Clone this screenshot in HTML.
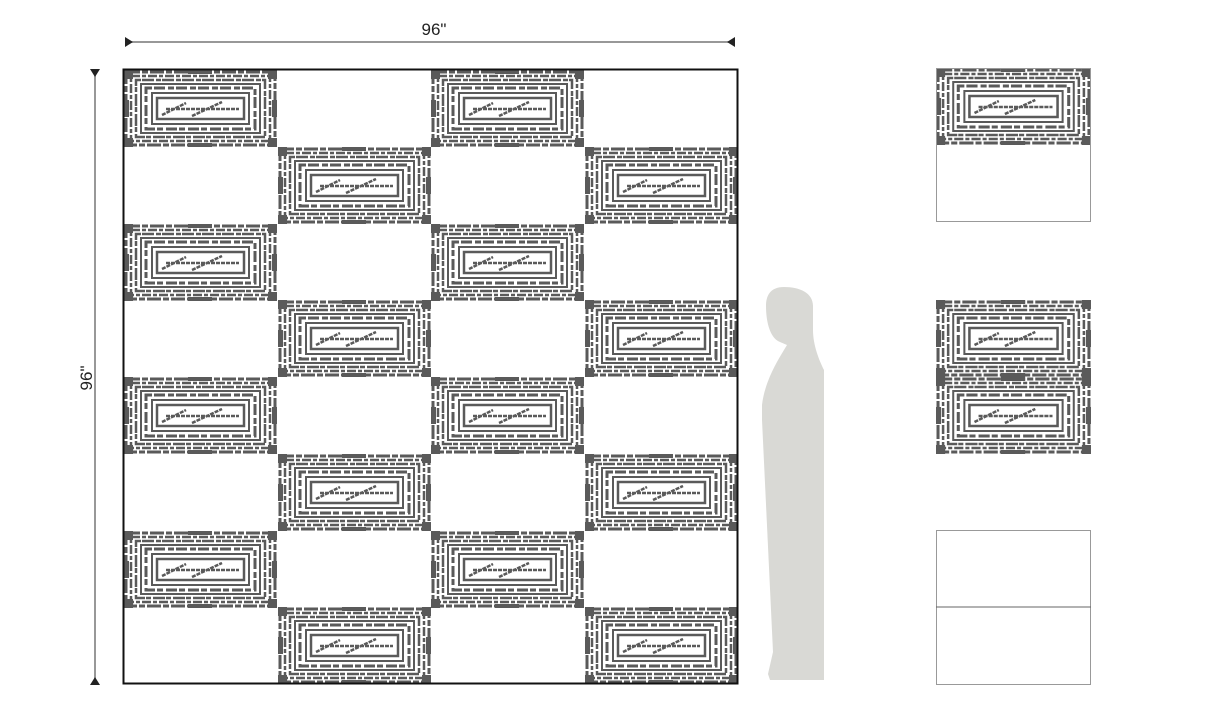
<!DOCTYPE html>
<html><head><meta charset="utf-8"><style>
html,body{margin:0;padding:0;background:#fff;width:1217px;height:702px;overflow:hidden}
</style></head><body>
<svg width="1217" height="702" viewBox="0 0 1217 702" xmlns="http://www.w3.org/2000/svg">
<defs>
<g id="t">
  <rect x="0" y="0" width="153" height="77" fill="#fff"/>
  <g fill="none" stroke="#5a5a5a">
    <rect x="2" y="2" width="149" height="73" stroke-width="3" stroke-dasharray="14 2 6 2"/>
    <rect x="7" y="6" width="139" height="65" stroke-width="2.5" stroke-dasharray="9 2 4 2"/>
    <rect x="12" y="10" width="129" height="57" stroke-width="2.5" stroke-dasharray="5 1 12 2"/>
    <rect x="17" y="14" width="119" height="49" stroke-width="2"/>
    <rect x="22" y="18" width="109" height="41" stroke-width="3" stroke-dasharray="6 2 11 3"/>
    <rect x="28" y="23" width="97" height="31" stroke-width="2"/>
    <rect x="33" y="28" width="87" height="21" stroke-width="2.5"/>
    <path d="M38 45 L62 33 M68 46 L98 32 M42 39 L115 39" stroke-width="2.5" stroke-dasharray="4 1"/>
  </g>
  <g fill="#5a5a5a">
    <rect x="0" y="0" width="9" height="9"/><rect x="144" y="0" width="9" height="9"/>
    <rect x="0" y="68" width="9" height="9"/><rect x="144" y="68" width="9" height="9"/>
    <rect x="0" y="30" width="5" height="17"/><rect x="148" y="30" width="5" height="17"/>
    <rect x="64" y="0" width="24" height="4"/><rect x="64" y="73" width="24" height="4"/>
  </g>
</g>
</defs>
<!-- dimension lines -->
<line x1="126" y1="42" x2="734" y2="42" stroke="#777" stroke-width="1.5"/>
<polygon points="125,37 133,42 125,47" fill="#222"/>
<polygon points="735,37 727,42 735,47" fill="#222"/>
<text x="434" y="35" font-family="Liberation Sans, sans-serif" font-size="17" text-anchor="middle" fill="#222">96"</text>
<line x1="95" y1="72" x2="95" y2="682" stroke="#777" stroke-width="1.5"/>
<polygon points="90,69 100,69 95,77" fill="#222"/>
<polygon points="90,685 100,685 95,677" fill="#222"/>
<text transform="translate(92,378) rotate(-90)" font-family="Liberation Sans, sans-serif" font-size="17" text-anchor="middle" fill="#222">96"</text>
<!-- grid tiles -->
<g>
<use href="#t" x="124" y="70"/><use href="#t" x="431" y="70"/>
<use href="#t" x="278" y="147"/><use href="#t" x="585" y="147"/>
<use href="#t" x="124" y="224"/><use href="#t" x="431" y="224"/>
<use href="#t" x="278" y="300"/><use href="#t" x="585" y="300"/>
<use href="#t" x="124" y="377"/><use href="#t" x="431" y="377"/>
<use href="#t" x="278" y="454"/><use href="#t" x="585" y="454"/>
<use href="#t" x="124" y="531"/><use href="#t" x="431" y="531"/>
<use href="#t" x="278" y="607"/><use href="#t" x="585" y="607"/>
</g>
<rect x="123.5" y="69.5" width="614" height="614" fill="none" stroke="#111" stroke-width="2"/>
<!-- person -->
<path d="M784 287 C770 287 766 296 766 306 C766 322 770 338 780 342 L787 345 C778 360 765 380 762 405 L762 420 L773 652 L768 674 L770 680 L824 680 L824 370 C819 360 813 345 813 330 L813 306 C813 293 800 287 784 287 Z" fill="#d9d9d5"/>
<!-- right panels -->
<use href="#t" transform="translate(936,68) scale(1.013,1)"/>
<rect x="936.5" y="68.5" width="154" height="153" fill="none" stroke="#999" stroke-width="1"/>
<use href="#t" transform="translate(936,300) scale(1.013,1)"/>
<use href="#t" transform="translate(936,377) scale(1.013,1)"/>
<rect x="936.5" y="530.5" width="154" height="154" fill="none" stroke="#999" stroke-width="1"/>
<line x1="936" y1="607" x2="1091" y2="607" stroke="#666" stroke-width="1"/>
</svg>
</body></html>
